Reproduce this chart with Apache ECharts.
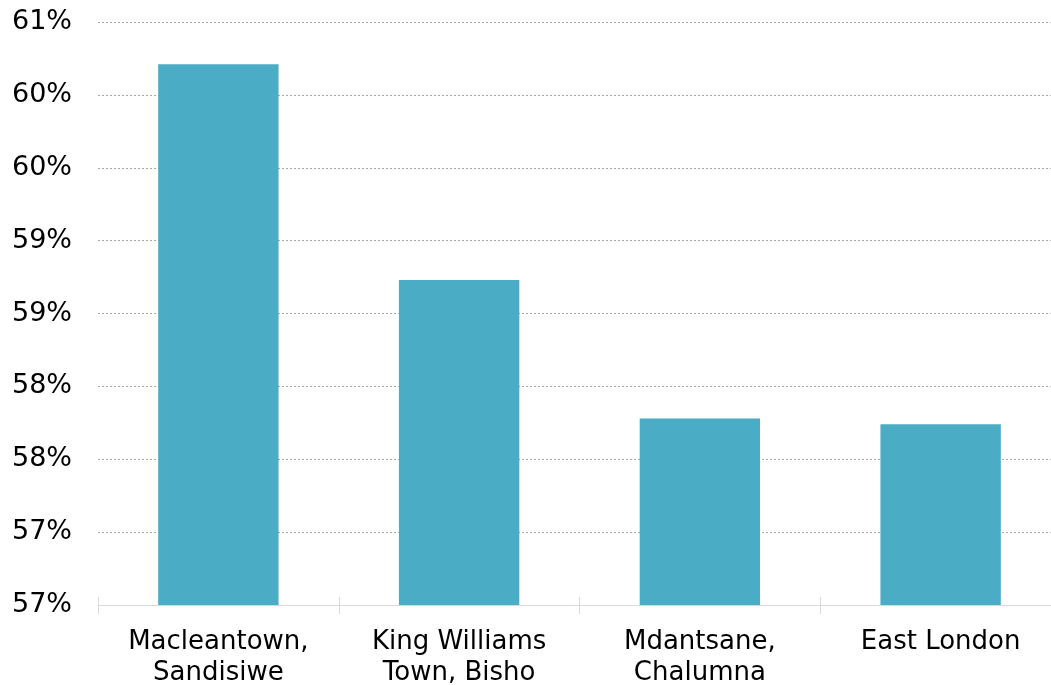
<!DOCTYPE html>
<html>
<head>
<meta charset="utf-8">
<style>
html,body{margin:0;padding:0;background:#fff;}
#chart{width:1051px;height:685px;}
</style>
<script src="https://cdn.jsdelivr.net/npm/echarts@6/dist/echarts.min.js"></script>
</head>
<body>
<div id="chart"></div>
<script>
const categories = ["Macleantown,\nSandisiwe", "King Williams\nTown, Bisho", "Mdantsane,\nChalumna", "East London"];
const values = [60.21, 58.73, 57.78, 57.74];
const yMin = 56.5, yMax = 60.5, yStep = 0.5;

const chart = echarts.init(document.getElementById('chart'), null, {renderer: 'canvas'});
const font = 'DejaVu Sans, Verdana, sans-serif';
chart.setOption({
  animation: false,
  backgroundColor: '#ffffff',
  grid: {left: 98, width: 963, top: 22, height: 583, containLabel: false, outerBoundsMode: 'none'},
  xAxis: [{
    type: 'category',
    data: categories,
    position: 'bottom',
    axisLine: {show: true, lineStyle: {color: '#d9d9d9', width: 1}},
    axisTick: {show: true, length: 9, lineStyle: {color: '#d9d9d9'}},
    axisLabel: {color: '#000', fontFamily: font, fontSize: 26, lineHeight: 31, margin: 22, interval: 0}
  }, {
    type: 'category',
    data: categories,
    position: 'bottom',
    axisLine: {show: false},
    axisTick: {show: true, inside: true, length: 8, lineStyle: {color: '#d9d9d9'}},
    axisLabel: {show: false}
  }],
  yAxis: {
    type: 'value',
    min: yMin, max: yMax, interval: yStep,
    axisLine: {show: false},
    axisTick: {show: false},
    splitLine: {show: true, lineStyle: {color: '#a8a8a8', type: [2, 2], width: 1}},
    axisLabel: {
      color: '#000', fontFamily: font, fontSize: 27, margin: 26,
      formatter: v => Math.round(v) + '%'
    }
  },
  series: [{
    type: 'bar',
    xAxisIndex: 0,
    data: values,
    barWidth: '50%',
    itemStyle: {color: '#4BACC6'}
  }]
});
</script>
</body>
</html>
